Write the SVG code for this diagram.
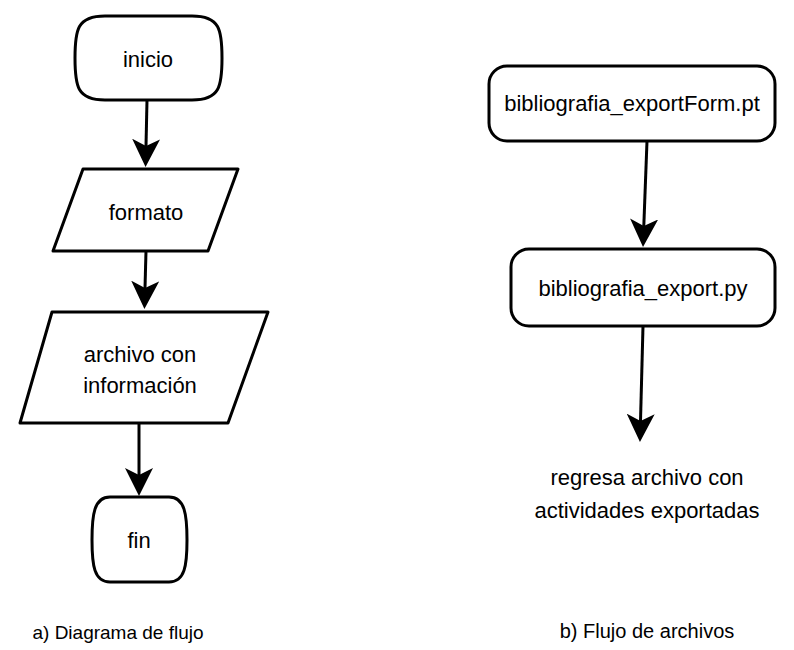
<svg xmlns="http://www.w3.org/2000/svg" width="794" height="650" viewBox="0 0 794 650">
<style>
.s{fill:#fff;stroke:#000;stroke-width:3;stroke-linejoin:round}
.t{font-family:"Liberation Sans",Arial,sans-serif;font-size:22px;fill:#000;text-anchor:middle}
.c{font-family:"Liberation Sans",Arial,sans-serif;font-size:20px;fill:#000;text-anchor:middle}
.e{fill:none;stroke:#000;stroke-width:3}
</style>
<defs>
<marker id="ah" markerUnits="userSpaceOnUse" viewBox="0 -14 28 28" refX="7" refY="0" markerWidth="28" markerHeight="28" orient="auto">
<path d="M0,-14 L28,0 L0,14 L7,0 Z" fill="#000"/>
</marker>
</defs>
<rect width="794" height="650" fill="#fff"/>
<g id="connectors">
<path class="e" d="M147,100 L146,146" marker-end="url(#ah)"/>
<path class="e" d="M146,251 L145,288" marker-end="url(#ah)"/>
<path class="e" d="M139,423 L139,475" marker-end="url(#ah)"/>
<path class="e" d="M647,141 L643.8,226" marker-end="url(#ah)"/>
<path class="e" d="M643,326 L640.5,421" marker-end="url(#ah)"/>
</g>
<g id="inicio">
<path class="s" d="M105,16 H192 C220,16 222,30 222,58 C222,86 220,100 192,100 H105 C77,100 75,86 75,58 C75,30 77,16 105,16 Z"/>
<text class="t" x="148" y="67">inicio</text>
</g>
<g id="formato">
<polygon class="s" points="83,169 238,169 208,251 53,251"/>
<text class="t" x="146" y="220">formato</text>
</g>
<g id="archivo">
<polygon class="s" points="52,312 268,312 228,423 20,423"/>
<text class="t" x="140" y="362">archivo con</text>
<text class="t" x="140" y="393">información</text>
</g>
<g id="fin">
<path class="s" d="M110,497 H169 C185,497 187,515 187,540 C187,565 185,582 169,582 H110 C94,582 92,565 92,540 C92,515 94,497 110,497 Z"/>
<text class="t" x="139" y="548">fin</text>
</g>
<g id="exportForm">
<rect class="s" x="489" y="66" width="286" height="75" rx="18"/>
<text class="t" x="632" y="111">bibliografia_exportForm.pt</text>
</g>
<g id="export">
<rect class="s" x="511" y="249" width="264" height="77" rx="18"/>
<text class="t" x="643" y="296">bibliografia_export.py</text>
</g>
<g id="resultado">
<text class="t" x="647" y="485">regresa archivo con</text>
<text class="t" x="647" y="518">actividades exportadas</text>
</g>
<g id="captions">
<text class="c" x="118" y="639" style="font-size:19px">a) Diagrama de flujo</text>
<text class="c" x="647" y="638">b) Flujo de archivos</text>
</g>
</svg>
